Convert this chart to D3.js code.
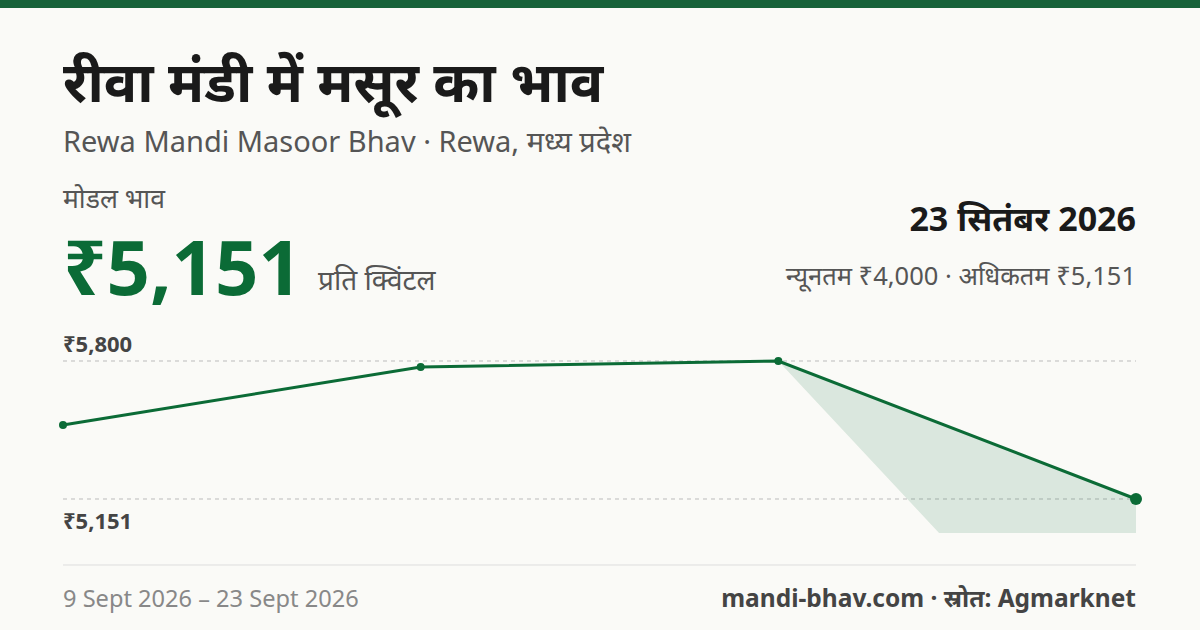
<!DOCTYPE html>
<html><head><meta charset="utf-8">
<script src="https://cdn.jsdelivr.net/npm/d3@7"></script>
<style>body{margin:0;background:#fafaf7;font-family:"Noto Sans",sans-serif}</style>
</head><body>
<svg id="c" width="1200" height="630"></svg>
<script>
const dates = ["9 Sept 2026","14 Sept 2026","19 Sept 2026","23 Sept 2026"];
const modal = [5499, 5772, 5800, 5151];
const minP = [5499, 5772, 5800, 4000];
const maxP = [5499, 5772, 5800, 5151];
const yTicks = [5800, 5151];

const svg = d3.select("#c");
const green = "#0b6b36";
svg.append("rect").attr("width",1200).attr("height",630).attr("fill","#fafaf7");
svg.append("rect").attr("width",1200).attr("height",8).attr("fill","#17623a");

const t = (x,y,s,txt,o={}) => svg.append("text").attr("x",x).attr("y",y).attr("font-size",s)
  .attr("fill",o.fill||"#1a1a1a").attr("font-weight",o.w||400).attr("text-anchor",o.a||"start").text(txt);

t(63,102,55.5,"रीवा मंडी में मसूर का भाव",{w:700});
t(63,152,29,"Rewa Mandi Masoor Bhav · Rewa, मध्य प्रदेश",{fill:"#555"});
t(63,208,26.5,"मोडल भाव",{fill:"#555"});
t(63,295,76,"₹5,151",{w:700,fill:green});
t(318,290,28,"प्रति क्विंटल",{fill:"#555"});
t(1136,231,34,"23 सितंबर 2026",{w:700,a:"end"});
t(1136,285,25.5,"न्यूनतम ₹4,000 · अधिकतम ₹5,151",{fill:"#555",a:"end"});

const x = d3.scalePoint().domain(dates).range([63,1136]);
const y = d3.scaleLinear().domain([5151,5800]).range([499,361]);

svg.append("defs").append("clipPath").attr("id","cl").append("rect")
  .attr("x",0).attr("y",330).attr("width",1200).attr("height",203);

yTicks.forEach(v=>{
  svg.append("line").attr("x1",63).attr("x2",1136).attr("y1",y(v)).attr("y2",y(v))
    .attr("stroke","#bbb").attr("stroke-dasharray","4,4");
});
t(63,352,22,"₹5,800",{w:700,fill:"#444"});
t(63,529,22,"₹5,151",{w:700,fill:"#444"});

const area = d3.area().x((d,i)=>x(dates[i])).y0((d,i)=>y(minP[i])).y1((d,i)=>y(maxP[i]));
svg.append("path").datum(modal).attr("d",area).attr("fill","#0b6b36").attr("opacity",0.13).attr("clip-path","url(#cl)");

const line = d3.line().x((d,i)=>x(dates[i])).y(d=>y(d));
svg.append("path").datum(modal).attr("d",line).attr("fill","none").attr("stroke",green).attr("stroke-width",3);
svg.selectAll("circle.p").data(modal).join("circle").attr("cx",(d,i)=>x(dates[i])).attr("cy",d=>y(d))
  .attr("r",(d,i)=>i===modal.length-1?6:4).attr("fill",green);

svg.append("line").attr("x1",63).attr("x2",1136).attr("y1",565).attr("y2",565).attr("stroke","#ddd");
t(63,607,23.6,"9 Sept 2026 – 23 Sept 2026",{fill:"#888"});
t(1136,607,24.5,"mandi-bhav.com · स्रोत: Agmarknet",{fill:"#444",w:700,a:"end"});
</script>
</body></html>
